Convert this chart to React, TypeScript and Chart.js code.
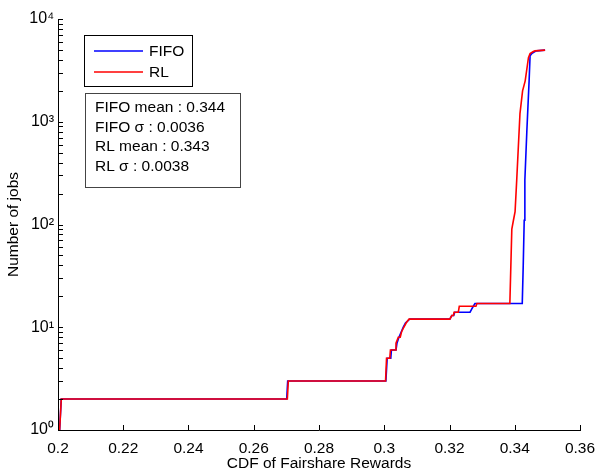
import React, { useEffect, useRef } from 'react';
import { Chart, registerables } from 'chart.js';

Chart.register(...registerables);

const FONT = '"Liberation Sans", Arial, Helvetica, sans-serif';

const seriesNames = ['FIFO', 'RL'];
const seriesColors = ['#0000ff', '#ff0000'];

const fifoX = [0.2005, 0.201, 0.2701, 0.2704, 0.3005, 0.3009, 0.302, 0.3022, 0.3036, 0.3039, 0.3045, 0.3052, 0.3058, 0.3065, 0.3078, 0.3201, 0.3207, 0.3213, 0.3216, 0.3263, 0.3268, 0.3273, 0.3278, 0.3423, 0.3426, 0.3429, 0.3431, 0.3437, 0.3444, 0.3447, 0.3452, 0.3462, 0.3467, 0.3493];
const fifoY = [1, 2, 2, 3, 3, 5, 5, 6, 6, 7, 8, 9, 10, 11, 12, 12, 13, 13, 14, 14, 15, 16, 17, 17, 40, 110, 270, 800, 2500, 4400, 4600, 4820, 4900, 4980];

const rlX = [0.2005, 0.201, 0.2703, 0.2706, 0.3004, 0.3007, 0.3017, 0.3019, 0.3034, 0.3036, 0.3043, 0.3049, 0.3053, 0.306, 0.3067, 0.3076, 0.3201, 0.3207, 0.3212, 0.3214, 0.3227, 0.323, 0.3281, 0.3284, 0.3385, 0.3391, 0.3396, 0.3401, 0.3406, 0.3416, 0.3424, 0.3432, 0.3442, 0.3447, 0.3457, 0.3462, 0.3493];
const rlY = [1, 2, 2, 3, 3, 5, 5, 6, 6, 7, 8, 8, 9, 10, 11, 12, 12, 13, 13, 14, 14, 16, 16, 17, 17, 90, 110, 133, 270, 1200, 2000, 2500, 4200, 4600, 4820, 4900, 4980];

const xTicks = [0.2, 0.22, 0.24, 0.26, 0.28, 0.3, 0.32, 0.34, 0.36];
const yDecades = [1, 10, 100, 1000, 10000];
const supDigits = ['⁰', '¹', '²', '³', '⁴'];

const statLines = ['FIFO mean : 0.344', 'FIFO σ : 0.0036', 'RL mean : 0.343', 'RL σ : 0.0038'];

const xTitle = 'CDF of Fairshare Rewards';
const yTitle = 'Number of jobs';

const toPoints = (xs: number[], ys: number[]) => xs.map((x, i) => ({ x, y: ys[i] }));

const overlayPlugin = {
  id: 'overlay',
  afterDraw(chart: any) {
    const ctx = chart.ctx;
    const xs = chart.scales.x;
    const ys = chart.scales.y;
    const area = chart.chartArea;
    ctx.save();
    ctx.strokeStyle = '#000';
    ctx.lineWidth = 1;
    // inward tick marks
    ctx.beginPath();
    ys.ticks.forEach((t: any) => {
      const py = Math.round(ys.getPixelForValue(t.value)) + 0.5;
      ctx.moveTo(area.left, py);
      ctx.lineTo(area.left + 5, py);
    });
    xs.ticks.forEach((t: any) => {
      const px = Math.round(xs.getPixelForValue(t.value)) + 0.5;
      ctx.moveTo(px, area.bottom);
      ctx.lineTo(px, area.bottom - 5);
    });
    ctx.stroke();

    // legend box
    ctx.fillStyle = '#fff';
    ctx.fillRect(84.5, 35.5, 108, 51);
    ctx.strokeStyle = '#000';
    ctx.strokeRect(84.5, 35.5, 108, 51);
    ctx.font = `15.5px ${FONT}`;
    ctx.textBaseline = 'middle';
    ctx.textAlign = 'left';
    chart.data.datasets.forEach((ds: any, i: number) => {
      const ly = 51 + i * 21;
      ctx.strokeStyle = ds.borderColor;
      ctx.lineWidth = 1.5;
      ctx.beginPath();
      ctx.moveTo(94, ly);
      ctx.lineTo(143, ly);
      ctx.stroke();
      ctx.fillStyle = '#000';
      ctx.fillText(ds.label, 149, ly + 1);
    });

    // statistics box
    ctx.fillStyle = '#fff';
    ctx.fillRect(85.5, 93.5, 155, 94);
    ctx.strokeStyle = '#444';
    ctx.lineWidth = 1;
    ctx.strokeRect(85.5, 93.5, 155, 94);
    ctx.fillStyle = '#000';
    statLines.forEach((s, i) => {
      ctx.fillText(s, 95, 108 + i * 19.5);
    });
    ctx.restore();
  },
};

export default function App() {
  const ref = useRef<HTMLCanvasElement>(null);
  useEffect(() => {
    if (!ref.current) return;
    const chart = new Chart(ref.current, {
      type: 'line',
      data: {
        datasets: [
          {
            label: seriesNames[0],
            data: toPoints(fifoX, fifoY),
            borderColor: seriesColors[0],
            backgroundColor: seriesColors[0],
            borderWidth: 1.6,
            pointRadius: 0,
            tension: 0,
            order: 2,
          },
          {
            label: seriesNames[1],
            data: toPoints(rlX, rlY),
            borderColor: seriesColors[1],
            backgroundColor: seriesColors[1],
            borderWidth: 1.6,
            pointRadius: 0,
            tension: 0,
            order: 1,
          },
        ],
      },
      options: {
        animation: false,
        responsive: false,
        devicePixelRatio: 1,
        parsing: false as any,
        layout: { padding: { left: 0, top: 19, right: 17, bottom: 0 } },
        plugins: { legend: { display: false }, tooltip: { enabled: false } },
        scales: {
          x: {
            type: 'linear',
            min: 0.2,
            max: 0.36,
            afterBuildTicks: (s: any) => {
              s.ticks = xTicks.map((v) => ({ value: v }));
            },
            afterFit: (s: any) => {
              s.height = 41;
              s.paddingLeft = 0;
              s.paddingRight = 0;
            },
            grid: { display: false, drawTicks: false, tickLength: 0 },
            border: { display: true, color: '#000', width: 1 },
            ticks: {
              autoSkip: false,
              maxRotation: 0,
              padding: 9,
              color: '#000',
              font: { family: FONT, size: 15.5 },
              callback: (v: any) => String(Number(Number(v).toFixed(2))),
            },
            title: {
              display: true,
              text: xTitle,
              color: '#000',
              font: { family: FONT, size: 15.5, lineHeight: 1 },
              padding: { top: 0, bottom: 0 },
            },
          },
          y: {
            type: 'logarithmic',
            min: 1,
            max: 10000,
            afterBuildTicks: (s: any) => {
              const t: any[] = [];
              yDecades.forEach((d, i) => {
                if (i === yDecades.length - 1) {
                  t.push({ value: d, major: true });
                } else {
                  for (let k = 1; k <= 9; k++) t.push({ value: d * k, major: k === 1 });
                }
              });
              s.ticks = t;
            },
            afterFit: (s: any) => {
              s.width = 58;
              s.paddingTop = 0;
              s.paddingBottom = 0;
            },
            grid: { display: false, drawTicks: false, tickLength: 0 },
            border: { display: true, color: '#000', width: 1 },
            ticks: {
              autoSkip: false,
              padding: 4,
              color: '#000',
              font: { family: FONT, size: 16 },
              callback: (v: any) => {
                const i = yDecades.indexOf(Number(v));
                return i >= 0 ? '10' + supDigits[i] : '';
              },
            },
            title: {
              display: true,
              text: yTitle,
              color: '#000',
              font: { family: FONT, size: 15.5 },
              padding: { top: 4, bottom: 0 },
            },
          },
        },
      } as any,
      plugins: [overlayPlugin],
    });
    return () => chart.destroy();
  }, []);
  return (
    <div style={{ position: 'absolute', left: 0, top: 0, width: 597, height: 471, background: '#fff' }}>
      <canvas ref={ref} width={597} height={471} />
    </div>
  );
}
